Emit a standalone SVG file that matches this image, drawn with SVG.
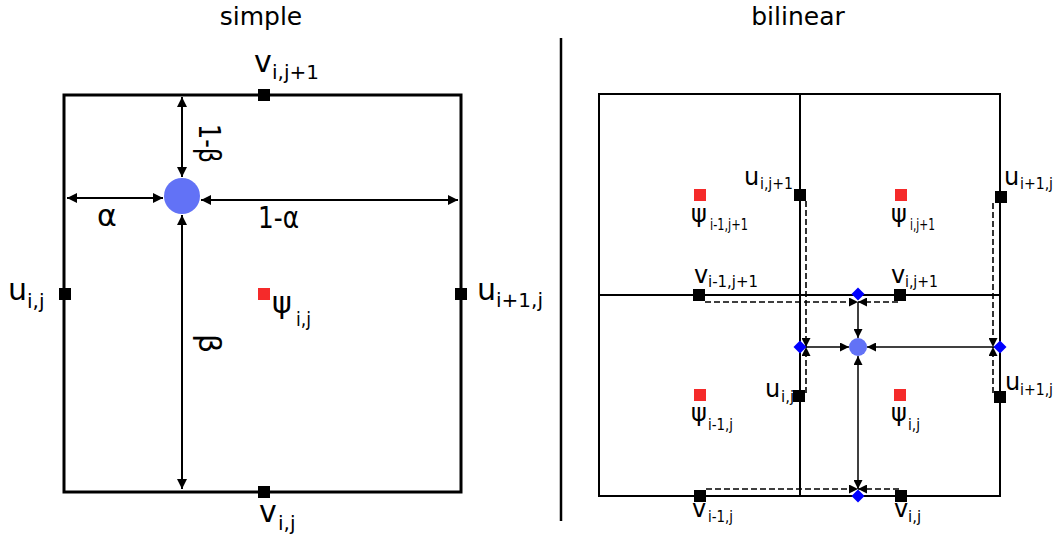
<svg xmlns="http://www.w3.org/2000/svg" width="1064" height="537" viewBox="0 0 1064 537">
<style>
text{font-family:"DejaVu Sans","Liberation Sans",sans-serif;fill:#000}
.t{font-size:25px}
.L{font-size:30px}
.Ls{font-size:20px}
.R{font-size:24px}
.Rs{font-size:16px}
.P{font-size:24px}
.Ps{font-size:15px}
.blk{fill:#000}
.red{fill:#f52a2a}
.dot{fill:#6272f6}
.dia{fill:#0000ff}
.frame{fill:none;stroke:#000;stroke-width:3}
.grid{fill:none;stroke:#000;stroke-width:2}
.a{fill:none;stroke:#000;stroke-width:2}
.s{fill:none;stroke:#000;stroke-width:1.5}
.d{fill:none;stroke:#000;stroke-width:1.6;stroke-dasharray:6 3}
</style>
<defs>
<marker id="ah" markerUnits="userSpaceOnUse" viewBox="0 0 10 10" refX="10" refY="5" markerWidth="10" markerHeight="10" orient="auto-start-reverse"><path d="M0,0L10,5L0,10z" fill="#000"/></marker>
<marker id="ah2" markerUnits="userSpaceOnUse" viewBox="0 0 10 10" refX="10" refY="5" markerWidth="9" markerHeight="9" orient="auto-start-reverse"><path d="M0,0L10,5L0,10z" fill="#000"/></marker>
</defs>

<g id="titles">
<text class="t" x="261" y="25" text-anchor="middle">simple</text>
<text class="t" x="798" y="25" text-anchor="middle">bilinear</text>
</g>
<line id="separator" x1="561" y1="38" x2="561" y2="521" stroke="#000" stroke-width="2.5"/>

<!-- LEFT PANEL -->
<g id="simple-cell"><rect class="frame" x="64" y="95" width="397" height="397"/></g>
<g id="simple-connectors">
<line class="a" x1="182" y1="97" x2="182" y2="177" marker-start="url(#ah)" marker-end="url(#ah)"/>
<line class="a" x1="67" y1="198" x2="163" y2="198" marker-start="url(#ah)" marker-end="url(#ah)"/>
<line class="a" x1="201" y1="200" x2="458" y2="200" marker-start="url(#ah)" marker-end="url(#ah)"/>
<line class="a" x1="182" y1="215" x2="182" y2="489" marker-start="url(#ah)" marker-end="url(#ah)"/>
<text class="L" x="97" y="226">α</text>
<text class="L" x="258" y="228" textLength="41" lengthAdjust="spacingAndGlyphs">1-α</text>
<text class="L" transform="translate(199,124) rotate(90)" textLength="39" lengthAdjust="spacingAndGlyphs">1-β</text>
<text class="L" transform="translate(199,334) rotate(90)">β</text>
</g>
<g id="s-v-top"><rect class="blk" x="258" y="89" width="12" height="12"/><text class="L" x="254" y="72">v</text><text class="Ls" x="272" y="79">i,j+1</text></g>
<g id="s-v-bot"><rect class="blk" x="258" y="486" width="12" height="12"/><text class="L" x="259" y="522">v</text><text class="Ls" x="278" y="530">i,j</text></g>
<g id="s-u-left"><rect class="blk" x="59" y="288" width="12" height="12"/><text class="L" x="8" y="300">u</text><text class="Ls" x="27" y="308">i,j</text></g>
<g id="s-u-right"><rect class="blk" x="455" y="288" width="12" height="12"/><text class="L" x="477" y="300">u</text><text class="Ls" x="496" y="307">i+1,j</text></g>
<g id="s-psi"><rect class="red" x="258" y="288" width="12" height="12"/><text class="L" x="272" y="313">ψ</text><text class="Ls" x="296" y="326" style="font-size:19px" textLength="15" lengthAdjust="spacingAndGlyphs">i,j</text></g>
<g id="s-point"><circle class="dot" cx="182" cy="196" r="18"/></g>

<!-- RIGHT PANEL -->
<g id="bilinear-grid">
<rect class="grid" x="599" y="94" width="401" height="402"/>
<line class="grid" x1="800" y1="94" x2="800" y2="496"/>
<line class="grid" x1="599" y1="295" x2="1000" y2="295"/>
</g>
<g id="bilinear-connectors">
<line class="d" x1="705" y1="302" x2="858" y2="302" marker-end="url(#ah2)"/>
<line class="d" x1="898" y1="302" x2="858" y2="302" marker-end="url(#ah2)"/>
<line class="d" x1="706" y1="489" x2="858" y2="489" marker-end="url(#ah2)"/>
<line class="d" x1="899" y1="489" x2="858" y2="489" marker-end="url(#ah2)"/>
<line class="d" x1="806" y1="201" x2="806" y2="347" marker-end="url(#ah2)"/>
<line class="d" x1="806" y1="393" x2="806" y2="347" marker-end="url(#ah2)"/>
<line class="d" x1="993" y1="203" x2="993" y2="347" marker-end="url(#ah2)"/>
<line class="d" x1="993" y1="393" x2="993" y2="347" marker-end="url(#ah2)"/>
<line class="s" x1="858" y1="302" x2="858" y2="338" stroke-width="1.2" marker-end="url(#ah2)"/>
<line class="s" x1="806" y1="347" x2="849" y2="347" marker-end="url(#ah2)"/>
<line class="s" x1="995" y1="347" x2="867" y2="347" marker-end="url(#ah2)"/>
<line class="s" x1="858" y1="356" x2="858" y2="489" marker-start="url(#ah2)" marker-end="url(#ah2)"/>
</g>
<g id="b-u-ij1"><rect class="blk" x="794" y="189" width="12" height="12"/><text class="R" x="744" y="185">u</text><text class="Rs" x="760" y="189" textLength="33" lengthAdjust="spacingAndGlyphs">i,j+1</text></g>
<g id="b-u-i1j-top"><rect class="blk" x="995" y="191" width="12" height="12"/><text class="R" x="1004" y="185">u</text><text class="Rs" x="1020" y="189" textLength="33" lengthAdjust="spacingAndGlyphs">i+1,j</text></g>
<g id="b-psi-i1j1"><rect class="red" x="694" y="189" width="12" height="12"/><text class="P" x="691" y="222">ψ</text><text class="Ps" x="710" y="230" textLength="38" lengthAdjust="spacingAndGlyphs">i-1,j+1</text></g>
<g id="b-psi-ij1"><rect class="red" x="895" y="189" width="12" height="12"/><text class="P" x="891" y="222">ψ</text><text class="Ps" x="910" y="230" textLength="25" lengthAdjust="spacingAndGlyphs">i,j+1</text></g>
<g id="b-v-i1j1"><rect class="blk" x="693" y="289" width="12" height="12"/><text class="R" x="694" y="283">v</text><text class="Rs" x="708" y="287" textLength="50" lengthAdjust="spacingAndGlyphs">i-1,j+1</text></g>
<g id="b-v-ij1"><rect class="blk" x="894" y="289" width="12" height="12"/><text class="R" x="891" y="283">v</text><text class="Rs" x="905" y="287" textLength="33" lengthAdjust="spacingAndGlyphs">i,j+1</text></g>
<g id="b-u-ij"><rect class="blk" x="793" y="390" width="12" height="12"/><text class="R" x="765" y="397">u</text><text class="Rs" x="781" y="402" style="font-size:15px">i,j</text></g>
<g id="b-u-i1j"><rect class="blk" x="994" y="391" width="12" height="12"/><text class="R" x="1005" y="390">u</text><text class="Rs" x="1020" y="395" textLength="33" lengthAdjust="spacingAndGlyphs">i+1,j</text></g>
<g id="b-psi-i1j"><rect class="red" x="694" y="389" width="12" height="12"/><text class="P" x="691" y="421">ψ</text><text class="Ps" x="708" y="430" textLength="25" lengthAdjust="spacingAndGlyphs">i-1,j</text></g>
<g id="b-psi-ij"><rect class="red" x="894" y="389" width="12" height="12"/><text class="P" x="891" y="421">ψ</text><text class="Ps" x="908" y="430" textLength="12" lengthAdjust="spacingAndGlyphs">i,j</text></g>
<g id="b-v-i1j"><rect class="blk" x="694" y="490" width="12" height="12"/><text class="R" x="692" y="517">v</text><text class="Rs" x="708" y="522" style="font-size:15px" textLength="25" lengthAdjust="spacingAndGlyphs">i-1,j</text></g>
<g id="b-v-ij"><rect class="blk" x="895" y="490" width="12" height="12"/><text class="R" x="894" y="517">v</text><text class="Rs" x="908" y="522" style="font-size:15px">i,j</text></g>
<g id="b-dia-top"><polygon class="dia" points="858,287.5 864.5,294 858,300.5 851.5,294"/></g>
<g id="b-dia-left"><polygon class="dia" points="800,340.5 806.5,347 800,353.5 793.5,347"/></g>
<g id="b-dia-right"><polygon class="dia" points="1000,340.5 1006.5,347 1000,353.5 993.5,347"/></g>
<g id="b-dia-bot"><polygon class="dia" points="858,489.5 864.5,496 858,502.5 851.5,496"/></g>
<g id="b-point"><circle class="dot" cx="858" cy="347" r="9"/></g>
</svg>
